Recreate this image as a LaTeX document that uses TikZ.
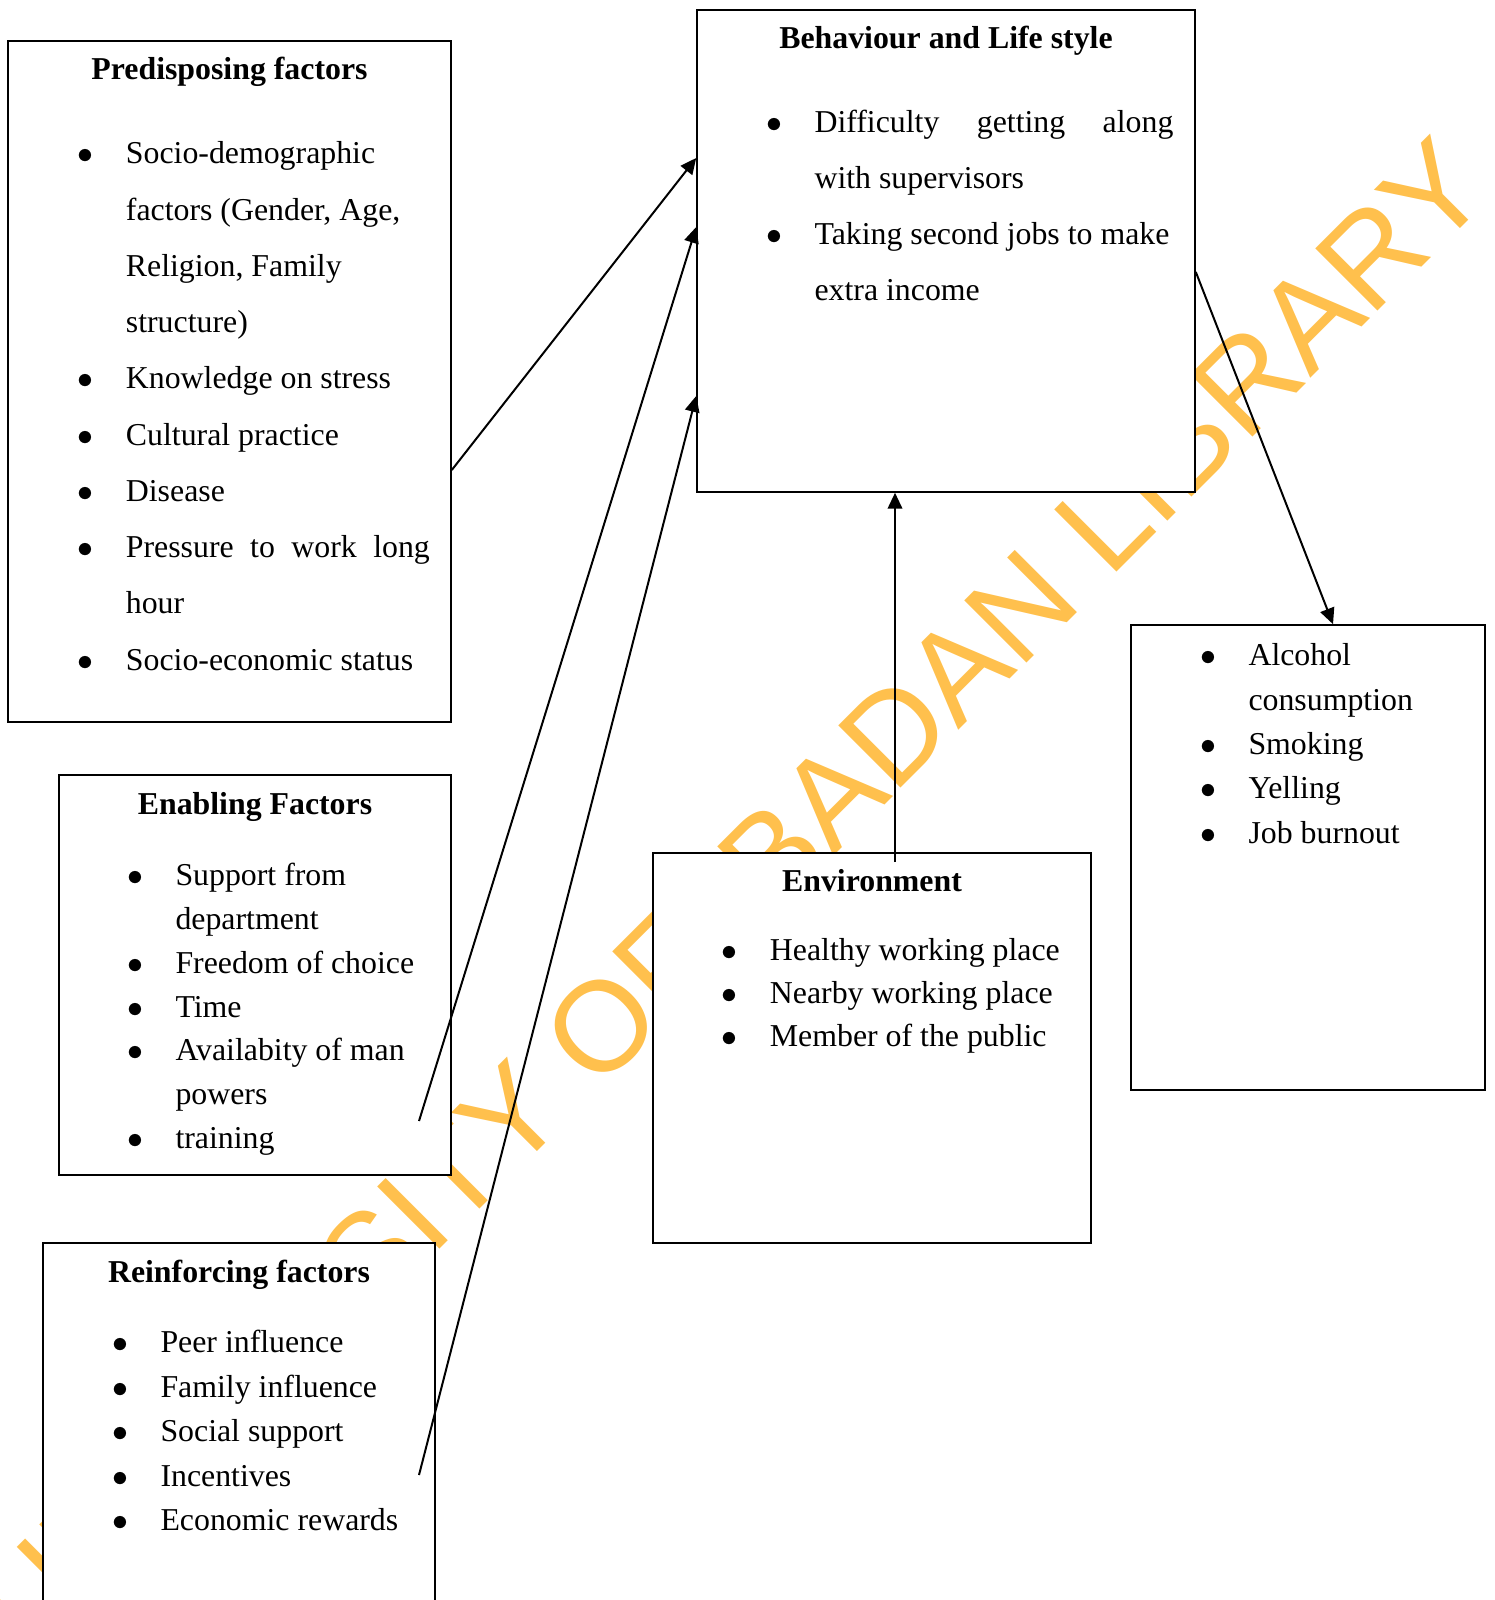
\documentclass[tikz,border=0pt]{standalone}
\usepackage{fontspec}
\setmainfont{Liberation Serif}
\newfontfamily\wmfont{Liberation Sans}
\usetikzlibrary{arrows.meta,fit}
\definecolor{wmorange}{RGB}{255,192,77}

\tikzset{
  box/.style={draw, line width=0.6pt, fill=white, inner sep=0pt},
  heading/.style={anchor=base, inner sep=0pt, font=\fontsize{12}{14}\selectfont\bfseries},
  items/.style={anchor=base west, inner sep=0pt, font=\fontsize{12}{#1}\selectfont},
  link/.style={line width=0.75pt, -{Triangle[length=6pt,width=5.5pt]}},
}

\begin{document}
\begin{tikzpicture}[x=0.377pt, y=-0.377pt]
  \clip (0,0) rectangle (1494,1600);

  % watermark behind everything
  \node[rotate=45, inner sep=0pt, text=wmorange, font=\wmfont\fontsize{48.2}{50}\selectfont] (wm) at (731,896) {UNIVERSITY OF IBADAN LIBRARY};

  % the boxes
  \node[box, fit={(8,41) (451,722)}] (pre) {};
  \node[box, fit={(697,10) (1195,492)}] (beh) {};
  \node[box, fit={(59,775) (451,1175)}] (ena) {};
  \node[box, fit={(43,1243) (435,1620)}] (rei) {};
  \node[box, fit={(653,853) (1091,1243)}] (env) {};
  \node[box, fit={(1131,625) (1485,1090)}] (out) {};

  % Predisposing factors
  \node[heading] (pretitle) at (229.5,80) {Predisposing factors};
  \node[items=21.2pt] (prelist) at (77.1,164) {\begin{tabular}[t]{@{}p{18.2pt}@{}l@{}}
    $\bullet$ & Socio-demographic\\
     & factors (Gender, Age,\\
     & Religion, Family\\
     & structure)\\
    $\bullet$ & Knowledge on stress\\
    $\bullet$ & Cultural practice\\
    $\bullet$ & Disease\\
    $\bullet$ & \makebox[114.6pt][s]{Pressure to work long}\\
     & hour\\
    $\bullet$ & Socio-economic status
  \end{tabular}};

  % Behaviour and Life style
  \node[heading] (behtitle) at (946,49) {Behaviour and Life style};
  \node[items=21.1pt] (behlist) at (765.7,133) {\begin{tabular}[t]{@{}p{18.2pt}@{}l@{}}
    $\bullet$ & \makebox[135.3pt][s]{Difficulty getting along}\\
     & with supervisors\\
    $\bullet$ & Taking second jobs to make\\
     & extra income
  \end{tabular}};

  % Enabling Factors
  \node[heading] (enatitle) at (255,814) {Enabling Factors};
  \node[items=16.5pt] (enalist) at (126.7,885.7) {\begin{tabular}[t]{@{}p{18.2pt}@{}l@{}}
    $\bullet$ & Support from\\
     & department\\
    $\bullet$ & Freedom of choice\\
    $\bullet$ & Time\\
    $\bullet$ & Availabity of man\\
     & powers\\
    $\bullet$ & training
  \end{tabular}};

  % Reinforcing factors
  \node[heading] (reititle) at (239,1282) {Reinforcing factors};
  \node[items=16.8pt] (reilist) at (111.7,1352.6) {\begin{tabular}[t]{@{}p{18.2pt}@{}l@{}}
    $\bullet$ & Peer influence\\
    $\bullet$ & Family influence\\
    $\bullet$ & Social support\\
    $\bullet$ & Incentives\\
    $\bullet$ & Economic rewards
  \end{tabular}};

  % Environment
  \node[heading] (envtitle) at (872,891) {Environment};
  \node[items=16.2pt] (envlist) at (721.1,960.7) {\begin{tabular}[t]{@{}p{18.2pt}@{}l@{}}
    $\bullet$ & Healthy working place\\
    $\bullet$ & Nearby working place\\
    $\bullet$ & Member of the public
  \end{tabular}};

  % outcomes
  \node[items=16.7pt] (outlist) at (1199.7,666) {\begin{tabular}[t]{@{}p{18.2pt}@{}l@{}}
    $\bullet$ & Alcohol\\
     & consumption\\
    $\bullet$ & Smoking\\
    $\bullet$ & Yelling\\
    $\bullet$ & Job burnout
  \end{tabular}};

  % arrows
  \coordinate (enatail) at (419,1121);
  \coordinate (reitail) at (419,1475);
  \coordinate (envtail) at (895,862);
  \draw[link] (pre.east |- 0,470) -- (beh.west |- 0,158);
  \draw[link] (enatail) -- (beh.west |- 0,227);
  \draw[link] (reitail) -- (beh.west |- 0,396);
  \draw[link] (envtail) -- (envtail |- beh.south);
  \draw[link] (beh.east |- 0,272) -- (1333,0 |- out.north);
\end{tikzpicture}
\end{document}
